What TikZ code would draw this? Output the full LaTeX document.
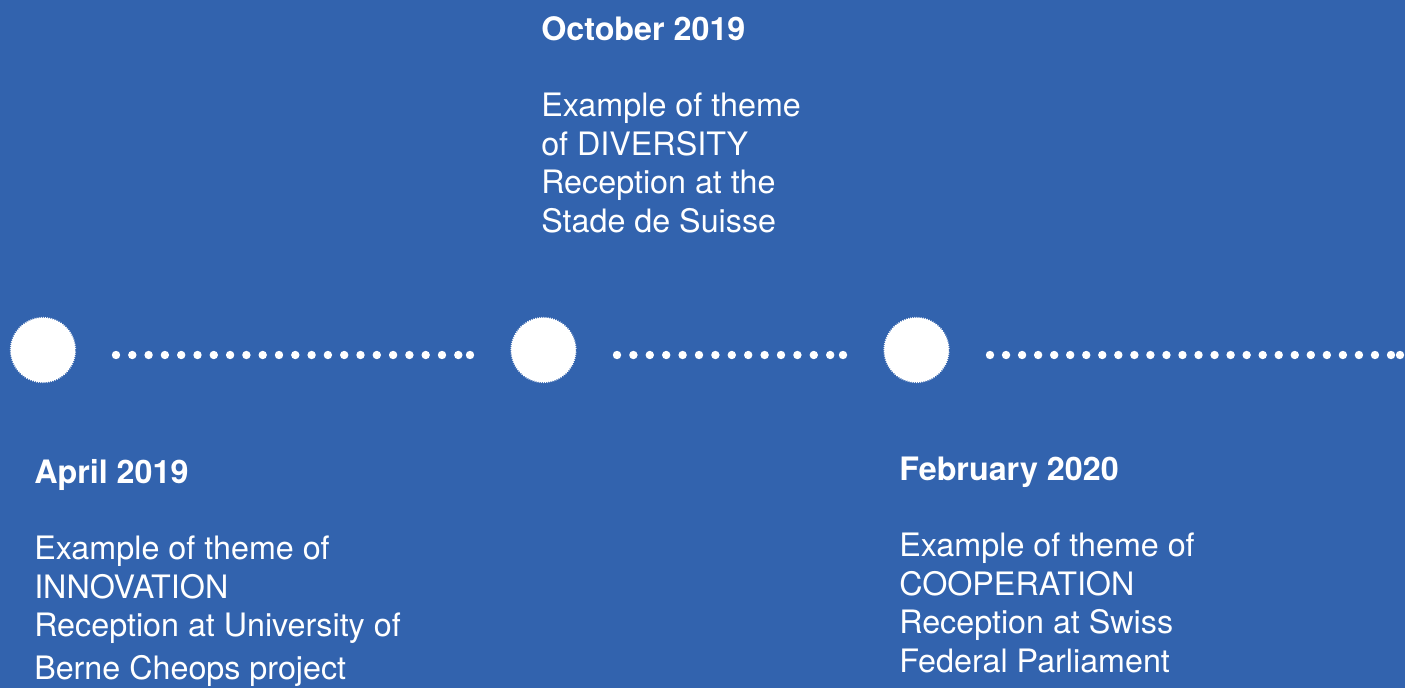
\documentclass[tikz,border=0pt]{standalone}
\usepackage{fontspec}
\setmainfont{TeX Gyre Heros}
\usetikzlibrary{decorations.pathmorphing}
\definecolor{bgblue}{HTML}{3263AE}

\begin{document}
\begin{tikzpicture}[x=0.75pt,y=-0.75pt,
	stop/.style={circle,fill=white,inner sep=0pt,minimum size=48.75pt,
		decorate,decoration={zigzag,segment length=1.6pt,amplitude=0.6pt}},
	dotrow/.style={white,line width=6.3pt,line cap=round,dash pattern=on 0pt off #1},
	entry/.style={text=white,inner sep=0pt,anchor=base west,align=left,
		font=\fontsize{24.2pt}{28.8pt}\selectfont}]
	%%%%% BACKGROUND %%%%%
	\fill[bgblue] (0,0) rectangle (1405,688);
	\useasboundingbox (0,0) rectangle (1405,688);
	
	%%%%% STOPS %%%%%
	\node[stop] (apr) at (43,350) {};
	\node[stop] (oct) at (543.5,350) {};
	\node[stop] (feb) at (916.5,350) {};
	
	%%%%% DOTTED LINES %%%%%
	\coordinate (a1) at (116,355);  \coordinate (a2) at (470,355);
	\coordinate (b1) at (617,355);  \coordinate (b2) at (843,355);
	\coordinate (c1) at (990,355);  \coordinate (c2) at (1400,355);
	
	\draw[dotrow=12.225pt] (a1) -- (a2);
	\fill[white] (a2) circle (4.2);
	\draw[dotrow=12.3pt] (b1) -- (b2);
	\fill[white] (b2) circle (4.2);
	\draw[dotrow=12.03pt] (c1) -- (c2);
	\fill[white] (c2) circle (4.2);
	
	%%%%% TEXTS %%%%%
	% anchored at the baseline of the last line
	\node[entry] (octtext) at (541,232) {\textbf{October 2019}\\[28.8pt]
		Example of theme\\ of DIVERSITY\\ Reception at the\\ Stade de Suisse};
	\node[entry] (aprtext) at (34,679) {\textbf{April 2019}\\[28.8pt]
		Example of theme of\\ INNOVATION\\ Reception at University of\\[3pt] Berne Cheops project};
	\node[entry] (febtext) at (899,672) {\textbf{February 2020}\\[28.8pt]
		Example of theme of\\ COOPERATION\\ Reception at Swiss\\ Federal Parliament};
\end{tikzpicture}
\end{document}
